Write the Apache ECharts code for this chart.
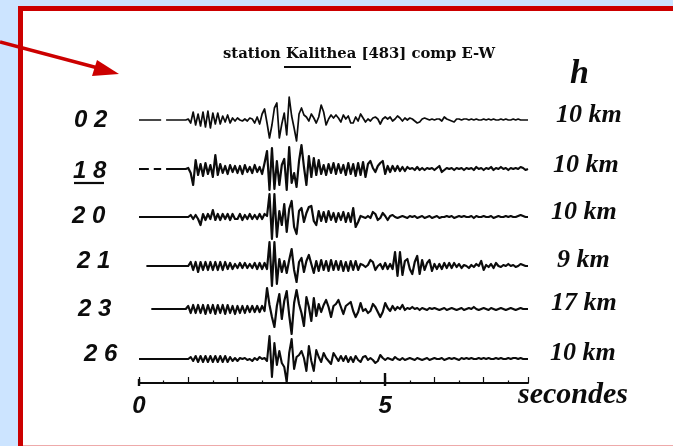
<!DOCTYPE html>
<html><head><meta charset="utf-8">
<style>html,body{margin:0;padding:0;background:#fff}#c{width:673px;height:446px}</style>
<script src="https://cdn.jsdelivr.net/npm/echarts@6/dist/echarts.min.js"></script>
</head><body><div id="c"></div>
<script>
// Sampling step of the traces (seconds)
const sampleStep = 0.05;
const titleText = 'station Kalithea [483] comp E-W';
const stations = ['02', '18', '20', '21', '23', '26'];
const depths = ['10 km', '10 km', '10 km', '9 km', '17 km', '10 km'];
const depthHeader = 'h';
const axisName = 'secondes';
const labelledTicks = [0, 5];

const trace02 = [
0,0,0,0,0,0,0,0,0,0,
null,0,0,0,0,0,0,0,0,0,
1,-3,8,-5,6,-6,8,-7,9,-8,
7,-4,7,-4,4,-2,5,-3,2,-1,
2,0,-1,1,-1,2,1,-3,3,-4,
6,11,-3,-18,-5,12,17,-18,-4,7,
-15,23,4,-8,-21,6,12,5,3,-1,
6,2,-3,3,15,8,-5,1,5,2,
5,2,-2,5,1,4,-3,-3,3,-1,
6,2,-2,1,-1,2,3,1,-4,1,
3,1,3,-1,1,4,2,-1,2,0,
2,1,-1,-3,-2,1,2,1,0,1,
0,1,1,-1,3,1,0,-1,-2,1,
1,0,1,1,0,1,0,1,0,0,
1,0,1,0,1,0,0,1,0,1,
0,0,1,0,1,0,0,0,0];
const trace18 = [
0,0,0,0,0,null,0,0,0,0,
null,0,0,0,0,0,0,0,0,0,
1,-4,-16,9,-6,5,-7,6,-5,4,
-8,14,-6,5,-4,3,-5,4,-3,3,
-4,3,-5,4,-3,2,-4,4,-3,2,
-5,6,18,-21,21,-20,8,-16,4,10,
-21,22,-14,-4,-18,8,24,2,-16,13,
-8,11,-6,9,-5,4,-6,5,-4,6,
-5,5,-4,4,-6,6,-5,5,-7,6,
-6,7,-8,5,8,1,-3,3,6,8,
-5,3,-3,3,-2,3,-2,2,-2,2,
0,1,-1,2,-1,1,-1,1,0,1,
-1,1,3,-3,-1,1,0,1,-1,1,
0,1,-1,1,0,1,-1,2,0,1,
-1,1,0,2,-1,1,0,2,0,1,
-1,1,0,1,0,2,1,-1,0];
const trace20 = [
0,0,0,0,0,0,0,0,0,0,
0,0,0,0,0,0,0,0,0,0,
0,2,-2,2,-2,-8,3,-3,3,-2,
7,-3,3,-3,3,-2,3,-3,3,-2,
-2,3,-3,2,-2,3,-2,2,-2,3,
-2,3,1,23,-22,23,-20,6,-8,13,
-15,8,16,-10,-17,6,9,-5,4,10,
11,-4,-8,6,-4,5,-5,6,-3,4,
-5,4,-3,5,-5,4,-5,9,-10,-5,
1,0,-1,1,-1,5,3,-3,-1,4,
1,-3,1,2,0,-1,0,1,0,-1,
1,0,1,-1,0,1,-1,0,1,-1,
0,1,-1,0,0,1,0,1,-1,0,
1,0,1,0,0,1,-1,1,0,0,
1,0,0,1,-1,0,1,0,0,1,
0,1,0,0,1,2,1,0,0];
const trace21 = [
null,null,null,0,0,0,0,0,0,0,
0,0,0,0,0,0,0,0,0,0,
0,4,-4,4,-6,4,-4,4,-4,4,
-4,4,-4,4,-4,4,-3,3,-3,2,
-2,3,-2,3,-2,2,-2,3,-3,3,
-3,3,-3,24,-20,24,-18,7,-6,5,
-7,6,17,-4,-16,4,8,-6,5,11,
2,-7,5,-5,6,-4,5,-5,6,-4,
5,-4,5,-5,4,-5,5,-4,5,-4,
2,1,-1,1,6,4,-4,0,2,-3,
3,-3,2,-3,14,-10,14,-9,5,7,
-3,-8,4,10,-8,6,-4,3,6,-5,
2,-3,2,-3,3,-2,3,-2,3,-1,
2,-2,1,0,-2,1,-1,2,0,5,
-4,1,-1,2,-2,3,0,-1,1,0,
2,0,1,-1,0,2,1,0,0];
const trace23 = [
null,null,null,null,null,0,0,0,0,0,
0,0,0,0,0,0,0,0,0,0,
3,-4,4,-4,4,-4,4,-5,4,-4,
4,-5,4,-4,4,-5,4,-4,3,-5,
3,-4,3,-4,3,-3,3,-3,3,-3,
3,-2,21,4,-8,-18,3,15,-10,8,
18,-6,-25,6,19,5,-4,-17,12,2,
-12,11,-7,5,-3,4,9,2,-8,3,
5,9,2,-5,3,5,7,-2,-8,-3,
6,-2,0,-4,-2,5,2,-3,-8,-3,
6,1,-2,3,-1,2,0,4,-1,1,
0,2,0,1,-1,1,0,-1,1,0,
1,0,-1,0,1,-1,0,1,0,-1,
0,1,-1,0,1,0,2,0,-1,0,
1,0,-1,1,0,-1,0,1,0,-1,
0,1,0,-1,0,1,0,0,0];
const trace26 = [
0,0,0,0,0,0,0,0,0,0,
0,0,0,0,0,0,0,0,0,0,
0,2,-2,3,-3,3,-3,3,-3,3,
-3,3,-3,3,-3,3,-3,2,-2,1,
-2,1,0,1,-1,0,-2,1,-1,2,
0,1,-2,23,-18,16,-6,8,-4,-8,
-23,6,20,-10,2,4,8,1,-12,13,
-2,-12,9,2,-3,6,1,-2,-5,6,
2,-2,3,-2,3,-3,2,-3,3,-1,
-3,2,3,-1,1,-1,-4,-2,4,1,
-1,1,0,-1,2,0,-1,1,-1,0,
1,0,-1,1,0,-1,0,1,-1,0,
1,0,0,1,-1,0,1,0,1,0,
-1,1,0,1,0,1,0,0,1,0,
1,0,1,0,0,1,0,1,0,0,
1,0,1,1,0,1,0,0,0];
const traces = [trace02, trace18, trace20, trace21, trace23, trace26];

// Layout (pixels)
const baselines = [120, 169, 217, 266, 309, 359];
const traceWidths = [1.7, 2.2, 2.2, 2.2, 2.2, 2.1];
const stationBoxes = [[74,120],[73,171],[72,216],[77,261],[78,309],[84,354]];
const depthBoxes = [[556,115],[553,165],[551,212],[557,260],[551,303],[550,353]];
const plotLeft = 139, plotWidth = 389, halfRange = 30;
const xMax = 7.9;
const ink = '#0c0c0c', red = '#cc0000', blue = '#cce4ff';

const grids = [], xAxes = [], yAxes = [], series = [];
traces.forEach((tr, i) => {
  grids.push({left: plotLeft, width: plotWidth, top: baselines[i] - halfRange, height: halfRange * 2});
  xAxes.push({type: 'value', gridIndex: i, min: 0, max: xMax, show: false});
  yAxes.push({type: 'value', gridIndex: i, min: -halfRange, max: halfRange, show: false});
  series.push({
    name: stations[i], type: 'line', xAxisIndex: i, yAxisIndex: i, symbol: 'none', silent: true,
    connectNulls: false, lineStyle: {color: ink, width: traceWidths[i], join: 'round'},
    data: tr.map((v, k) => [+(k * sampleStep).toFixed(2), v])
  });
});
// Time scale
grids.push({left: plotLeft, width: plotWidth, top: 373, height: 14});
xAxes.push({
  type: 'value', gridIndex: 6, min: 0, max: xMax, interval: 1,
  axisLine: {show: true, onZero: true, lineStyle: {color: ink, width: 2}},
  axisTick: {show: true, inside: true, length: 6, lineStyle: {color: ink, width: 1.2}},
  minorTick: {show: true, splitNumber: 2, length: 2.5, lineStyle: {color: ink, width: 1.2}},
  splitLine: {show: false}, minorSplitLine: {show: false},
  axisLabel: {
    show: true, margin: 7, fontFamily: 'Liberation Sans', fontStyle: 'italic', fontWeight: 'bold', fontSize: 24, color: ink,
    showMinLabel: true,
    formatter: v => labelledTicks.includes(v) ? String(v) : ''
  }
});
yAxes.push({type: 'value', gridIndex: 6, min: -4, max: 10, show: false});
series.push({
  type: 'line', xAxisIndex: 6, yAxisIndex: 6, data: [], symbol: 'none', silent: true,
  markLine: {
    silent: true, symbol: 'none', animation: false, label: {show: false},
    lineStyle: {color: ink, width: 2.4, type: 'solid'},
    data: labelledTicks.map((t, i) => [{xAxis: t, yAxis: -3}, {xAxis: t, yAxis: i ? 10 : 4}])
  }
});

const graphic = [
  {type: 'rect', shape: {x: 0, y: 0, width: 18, height: 446}, style: {fill: blue}, z: -2},
  {type: 'rect', shape: {x: 0, y: 0, width: 673, height: 6}, style: {fill: blue}, z: -2},
  {type: 'rect', shape: {x: 18, y: 6, width: 5, height: 440}, style: {fill: red}, z: 1},
  {type: 'rect', shape: {x: 18, y: 6, width: 655, height: 5}, style: {fill: red}, z: 1},
  {type: 'rect', shape: {x: 23, y: 445, width: 650, height: 1}, style: {fill: '#eeaaaa'}, z: 1},
  {type: 'line', shape: {x1: 0, y1: 42, x2: 98, y2: 68}, style: {stroke: red, lineWidth: 3.4}, z: 2},
  {type: 'polygon', shape: {points: [[119, 74], [97, 60], [92, 76]]}, style: {fill: red}, z: 2},
  {type: 'line', shape: {x1: 284, y1: 67, x2: 351, y2: 67}, style: {stroke: ink, lineWidth: 2}, z: 2},
  {type: 'line', shape: {x1: 74, y1: 183, x2: 104, y2: 183}, style: {stroke: ink, lineWidth: 2.2}, z: 2},
  {type: 'text', x: 570, y: 74, style: {text: depthHeader, font: 'italic bold 34px "Liberation Serif"', verticalAlign: 'middle', fill: ink}, z: 2},
  {type: 'text', x: 518, y: 395, style: {text: axisName, font: 'italic bold 30px "Liberation Serif"', fill: ink, verticalAlign: 'middle'}, z: 2}
];
stations.forEach((s, i) => graphic.push({
  type: 'text', x: stationBoxes[i][0], y: stationBoxes[i][1], z: 2,
  style: {text: s.split('').join(' '), font: 'italic bold 24px "Liberation Sans"', fill: ink, verticalAlign: 'middle'}
}));
depths.forEach((d, i) => graphic.push({
  type: 'text', x: depthBoxes[i][0], y: depthBoxes[i][1], z: 2,
  style: {text: d, font: 'italic bold 26px "Liberation Serif"', fill: ink, verticalAlign: 'middle'}
}));

const chart = echarts.init(document.getElementById('c'), null, {renderer: 'canvas'});
chart.setOption({
  animation: false,
  backgroundColor: '#ffffff',
  title: {
    text: titleText, left: 218, top: 42,
    textStyle: {fontFamily: 'DejaVu Serif', fontWeight: 'bold', fontSize: 14.8, color: ink}
  },
  tooltip: {show: false},
  legend: {show: false},
  grid: grids, xAxis: xAxes, yAxis: yAxes, series, graphic
});
</script></body></html>
